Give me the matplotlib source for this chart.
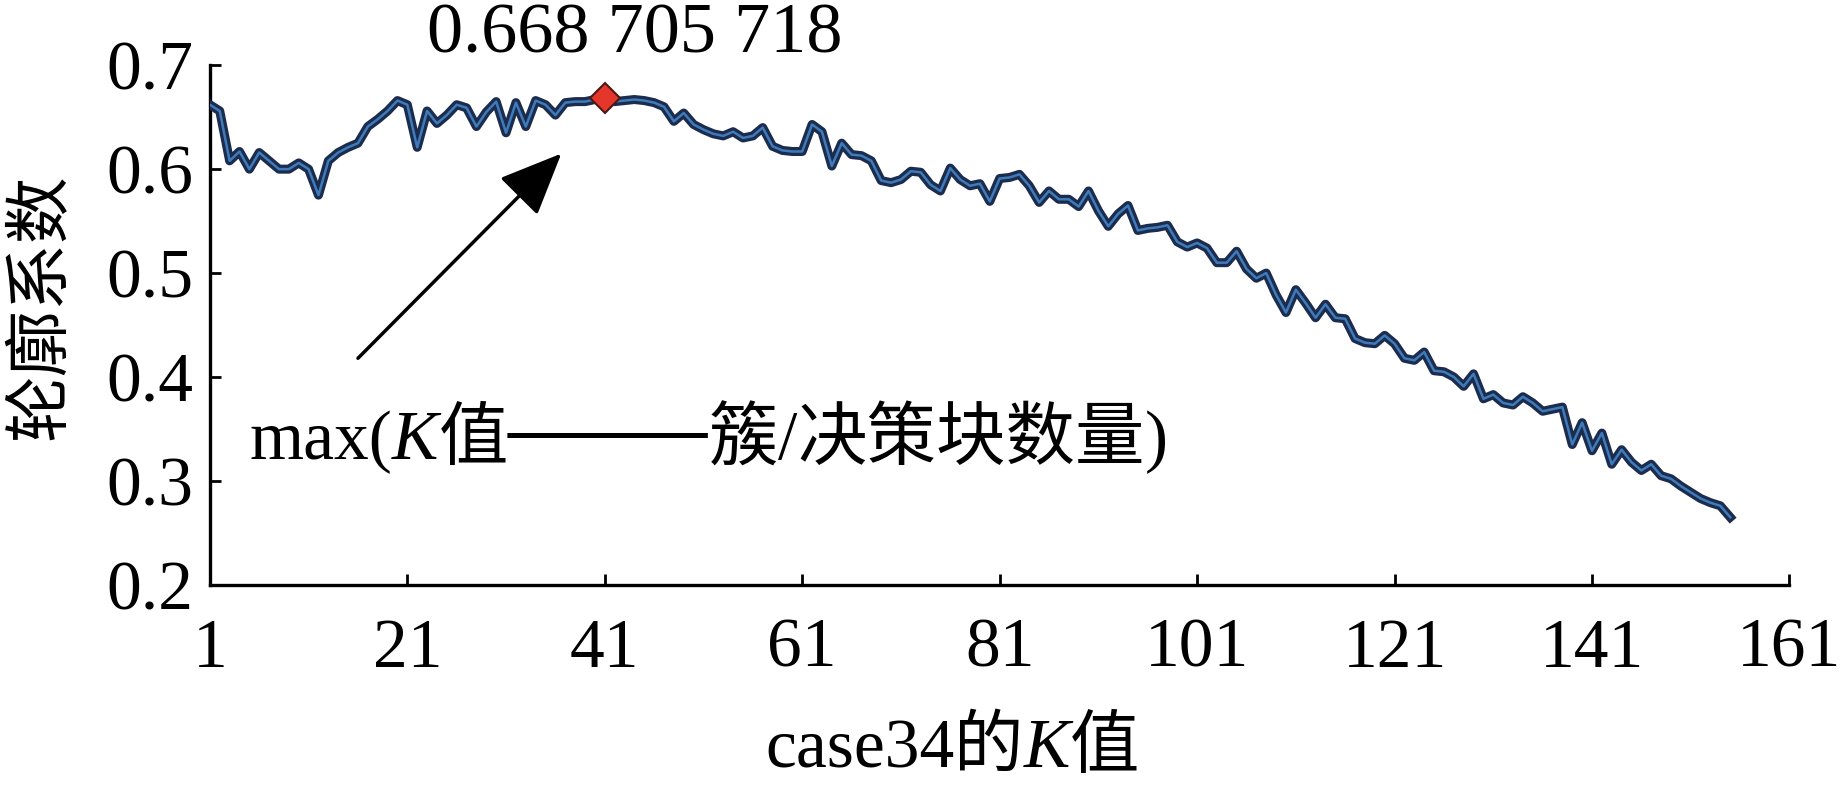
import numpy as np
import matplotlib
matplotlib.use("Agg")
from matplotlib import pyplot as plt
from matplotlib.offsetbox import TextArea, HPacker, AnnotationBbox

# silhouette coefficient for K = 1..155
k_values = list(range(1, 156))
silhouette = [
    0.662, 0.656, 0.608, 0.617, 0.600, 0.616, 0.608, 0.600, 0.600, 0.606,
    0.600, 0.575, 0.608, 0.616, 0.621, 0.625, 0.641, 0.648, 0.656, 0.666,
    0.662, 0.621, 0.656, 0.644, 0.652, 0.662, 0.659, 0.641, 0.655, 0.665,
    0.635, 0.664, 0.641, 0.666, 0.662, 0.652, 0.664, 0.665, 0.665, 0.667,
    0.668705718, 0.665, 0.666, 0.667, 0.666, 0.664, 0.660, 0.646, 0.654, 0.643,
    0.638, 0.634, 0.632, 0.636, 0.630, 0.632, 0.640, 0.622, 0.618, 0.617,
    0.617, 0.643, 0.636, 0.603, 0.625, 0.614, 0.613, 0.608, 0.589, 0.587,
    0.590, 0.598, 0.597, 0.585, 0.579, 0.601, 0.590, 0.584, 0.586, 0.569,
    0.591, 0.592, 0.595, 0.584, 0.568, 0.579, 0.571, 0.571, 0.564, 0.579,
    0.560, 0.545, 0.557, 0.565, 0.541, 0.543, 0.544, 0.546, 0.530, 0.525,
    0.529, 0.524, 0.510, 0.510, 0.521, 0.504, 0.495, 0.500, 0.479, 0.462,
    0.484, 0.471, 0.457, 0.470, 0.457, 0.456, 0.437, 0.433, 0.432, 0.440,
    0.432, 0.418, 0.416, 0.424, 0.406, 0.405, 0.400, 0.391, 0.403, 0.379,
    0.383, 0.375, 0.373, 0.381, 0.375, 0.367, 0.369, 0.371, 0.335, 0.356,
    0.329, 0.346, 0.316, 0.330, 0.318, 0.310, 0.316, 0.305, 0.302, 0.295,
    0.289, 0.283, 0.279, 0.276, 0.265,
]
x_ticks = [1, 21, 41, 61, 81, 101, 121, 141, 161]
y_ticks = [0.2, 0.3, 0.4, 0.5, 0.6, 0.7]

best = int(np.argmax(silhouette))
best_k = k_values[best]
best_val = silhouette[best]

serif = ['Liberation Serif', 'Noto Sans CJK SC']
cjk = ['Noto Sans CJK SC', 'Liberation Serif']
plt.rcParams['font.family'] = serif

fig = plt.figure(figsize=(18.41, 7.86), dpi=100)
ax = fig.add_axes([0.114, 0.256, 0.858, 0.661])

ax.plot(k_values, silhouette, color='#1c2c4c', lw=6.5, solid_joinstyle='round', zorder=3)
ax.plot(k_values, silhouette, color='#3d7bbd', lw=1.8, zorder=4)
ax.plot([best_k], [best_val], marker='D', markersize=15, color='#e5362c',
        markeredgecolor='#4a1a18', markeredgewidth=1.5, zorder=5)

ax.set_xlim(1, 161)
ax.set_ylim(0.2, 0.7)
ax.set_xticks(x_ticks)
ax.set_yticks(y_ticks)
ax.set_yticklabels([f'{v:.1f}' for v in y_ticks])

for s in ['top', 'right']:
    ax.spines[s].set_visible(False)
for s in ['left', 'bottom']:
    ax.spines[s].set_linewidth(2.4)
ax.tick_params(axis='both', direction='in', length=8, width=2, labelsize=50)
ax.tick_params(axis='x', pad=24)
ax.tick_params(axis='y', pad=12)

ax.set_ylabel('轮廓系数', family=cjk, fontsize=48)
ax.yaxis.set_label_coords(-0.086, 0.535)

# max value label and arrow
ax.text(best_k + 3, 0.729, f'{best_val:.9f}'[:5] + ' 705 718', fontsize=52,
        ha='center', va='center', clip_on=False)
ax.annotate('', xy=(36.6, 0.615), xytext=(16.0, 0.418),
            arrowprops=dict(arrowstyle='-|>,head_length=0.65,head_width=0.28',
                            lw=2.5, color='black', mutation_scale=60,
                            shrinkA=0, shrinkB=0))


def mixed_label(parts):
    areas = []
    for txt, fam, style, size in parts:
        areas.append(TextArea(txt, textprops=dict(family=fam, style=style,
                                                   fontsize=size, color='black')))
    return HPacker(children=areas, pad=0, sep=0, align='baseline')


note = mixed_label([
    ('max(', serif, 'normal', 50),
    ('K', serif, 'italic', 50),
    ('值', cjk, 'normal', 50),
    ('——', serif, 'normal', 72),
    ('簇', cjk, 'normal', 50),
    ('/', serif, 'normal', 50),
    ('决策块数量', cjk, 'normal', 50),
    (')', serif, 'normal', 50),
])
ax.add_artist(AnnotationBbox(note, (5.0, 0.344), xycoords='data',
                             box_alignment=(0, 0.5), frameon=False))

xlab = mixed_label([
    ('case34', serif, 'normal', 50),
    ('的', cjk, 'normal', 50),
    ('K', serif, 'italic', 50),
    ('值', cjk, 'normal', 50),
])
ax.add_artist(AnnotationBbox(xlab, (0.47, -0.313), xycoords='axes fraction',
                             box_alignment=(0.5, 0.5), frameon=False,
                             annotation_clip=False))

fig.savefig('out.png', dpi=100, facecolor='white')
